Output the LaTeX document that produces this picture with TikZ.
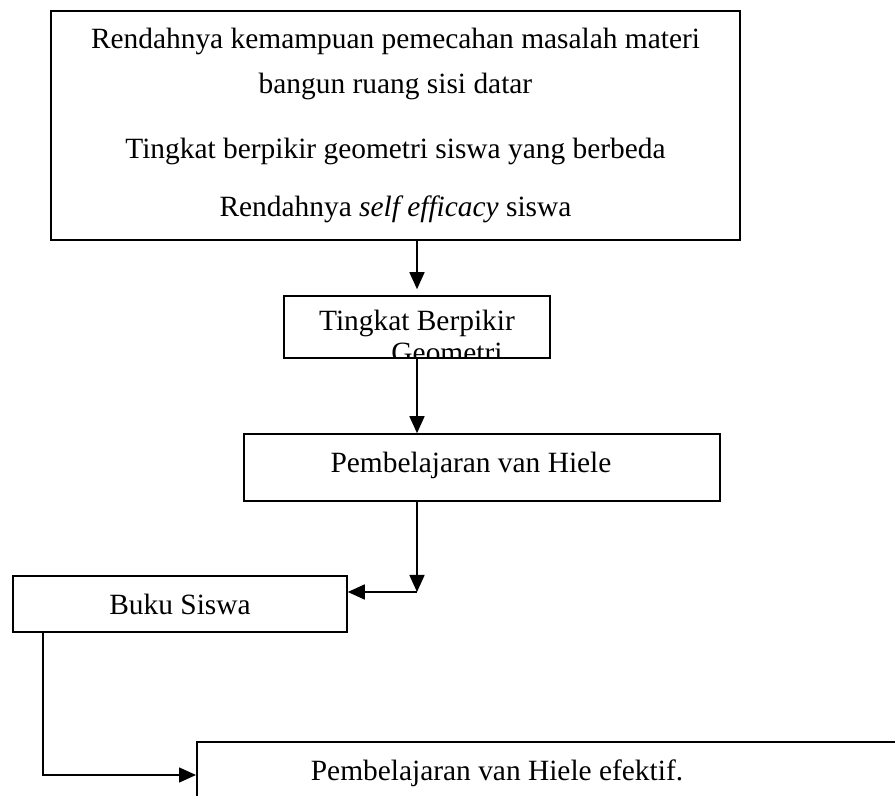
\documentclass[tikz,border=0pt]{standalone}
\usepackage{fontspec}
\setmainfont{Liberation Serif}
\usepackage{tikz}
\usetikzlibrary{arrows.meta,positioning}
\tikzstyle{arrow} = [line width=0.8pt,-{Triangle[length=8.5pt,width=7.5pt]}]
\tikzstyle{kotak} = [rectangle, draw, line width=0.8pt, inner sep=0pt, align=center, font=\fontsize{14.7pt}{22.5pt}\selectfont]
\tikzstyle{teks} = [inner sep=0pt, font=\fontsize{14.7pt}{22.5pt}\selectfont]

\begin{document}
\begin{tikzpicture}[x=0.5pt,y=-0.5pt]
\useasboundingbox (0,0) rectangle (895,796);
\node[kotak, minimum width=344.5pt, minimum height=114.5pt] (masalah) at (395.5,125.5) {Rendahnya kemampuan pemecahan masalah materi\\ bangun ruang sisi datar\\[10pt] Tingkat berpikir geometri siswa yang berbeda\\[6.5pt] Rendahnya \textit{self efficacy} siswa};
\node[kotak, minimum width=133pt, minimum height=31pt] (tingkat) at (417,327) {};
\begin{scope}
\clip (tingkat.south west) rectangle (tingkat.north east);
\node[teks, anchor=base] at (417,331) {Tingkat Berpikir};
\node[teks, anchor=base] at (447,363) {Geometri};
\end{scope}
\node[kotak, minimum width=238pt, minimum height=33.5pt] (pvh) at (482,467.5) {};
\node[teks] at (471,465) {Pembelajaran van Hiele};
\node[kotak, minimum width=167pt, minimum height=28pt] (buku) at (180,604) {Buku Siswa};
\node[kotak, minimum width=400pt, minimum height=75pt, anchor=north west] (efektif) at (196,741) {};
\node[teks] at (497,773) {Pembelajaran van Hiele efektif.};
\coordinate (belok) at (417,592);
\coordinate (belok2) at (43,775);
\draw[arrow, shorten >=3pt] (masalah.south -| tingkat) -- (tingkat.north);
\draw[arrow] (tingkat.south) -- (tingkat.south |- pvh.north);
\draw[arrow] (pvh.south -| belok) -- (belok);
\draw[arrow] (belok) -- (belok -| buku.east);
\draw[arrow] (buku.south -| belok2) -- (belok2) -- (belok2 -| efektif.west);
\end{tikzpicture}
\end{document}
